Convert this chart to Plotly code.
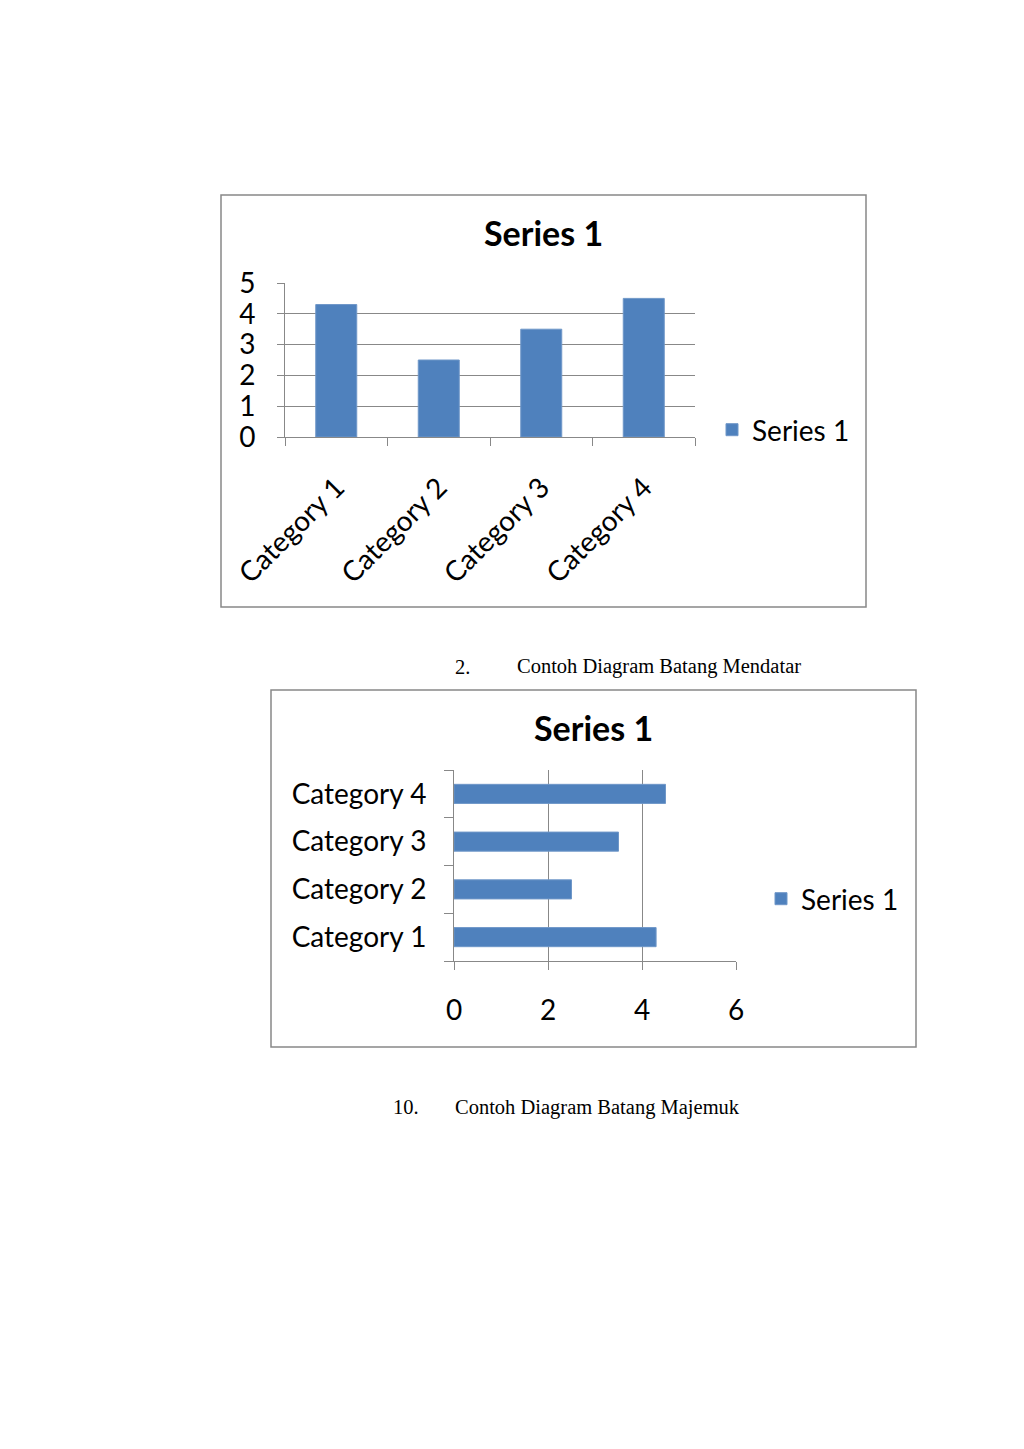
import plotly.graph_objects as go

# data
categories = ["Category 1", "Category 2", "Category 3", "Category 4"]
series_1 = [4.3, 2.5, 3.5, 4.5]
series_name = "Series 1"
y_ticks_1 = [0, 1, 2, 3, 4, 5]
x_ticks_2 = [0, 2, 4, 6]

W, H = 1024, 1449
OFF = 8  # page body margin of the html
blue = "#4F81BD"
grey = "#888888"
font = "Lato"


def px_x(v):
    return (v - OFF) / W


def px_y(v):
    return 1 - (v - OFF) / H


fig = go.Figure()

# chart 1 - vertical bars
fig.add_trace(go.Bar(x=categories, y=series_1, name=series_name,
                     marker=dict(color=blue, line=dict(color="#6F97C8", width=1)),
                     xaxis="x", yaxis="y", legend="legend"))

# chart 2 - horizontal bars
fig.add_trace(go.Bar(y=categories, x=series_1, name=series_name, orientation="h",
                     marker=dict(color=blue, line=dict(color="#6F97C8", width=1)),
                     xaxis="x2", yaxis="y2", legend="legend2"))

fig.update_layout(
    width=W, height=H,
    margin=dict(l=0, r=0, t=0, b=0, autoexpand=False),
    paper_bgcolor="white", plot_bgcolor="white",
    font=dict(family=font, color="black"),
    bargap=0.6,
    showlegend=True,
    xaxis=dict(domain=[px_x(285), px_x(695)], anchor="y", automargin=False,
               type="category", tickangle=-45, tickson="boundaries",
               ticks="outside", ticklen=8, tickcolor=grey,
               showline=True, linecolor=grey, showgrid=False,
               tickfont=dict(size=28), ticklabelstandoff=22),
    yaxis=dict(domain=[px_y(437), px_y(283)], anchor="x", automargin=False,
               range=[0, 5], tickvals=y_ticks_1,
               ticks="outside", ticklen=7, tickcolor=grey,
               showline=True, linecolor=grey,
               showgrid=True, gridcolor=grey, zeroline=False,
               tickfont=dict(size=28), ticklabelstandoff=16),
    xaxis2=dict(domain=[px_x(454), px_x(736)], anchor="y2", automargin=False,
                range=[0, 6], tickvals=x_ticks_2,
                ticks="outside", ticklen=8, tickcolor=grey,
                showline=True, linecolor=grey,
                showgrid=True, gridcolor=grey, zeroline=False,
                tickfont=dict(size=28), ticklabelstandoff=16),
    yaxis2=dict(domain=[px_y(961), px_y(770)], anchor="x2", automargin=False,
                type="category", tickson="boundaries",
                ticks="outside", ticklen=9, tickcolor=grey,
                showline=True, linecolor=grey, showgrid=False,
                tickfont=dict(size=28), ticklabelstandoff=21),
    legend=dict(x=px_x(712), y=px_y(430), xanchor="left", yanchor="middle",
                font=dict(size=28), bgcolor="rgba(0,0,0,0)"),
    legend2=dict(x=px_x(761), y=px_y(899), xanchor="left", yanchor="middle",
                 font=dict(size=28), bgcolor="rgba(0,0,0,0)"),
)

# chart frames
for x0, y0, x1, y1 in [(221, 195, 866, 607), (271, 690, 916, 1047)]:
    fig.add_shape(type="rect", xref="paper", yref="paper",
                  x0=px_x(x0), x1=px_x(x1), y0=px_y(y0), y1=px_y(y1),
                  line=dict(color=grey, width=1.5), layer="below")

# chart titles
for cx, cy in [(543, 232), (593, 727)]:
    fig.add_annotation(text="<b>Series 1</b>", xref="paper", yref="paper",
                       x=px_x(cx), y=px_y(cy), showarrow=False,
                       xanchor="center", yanchor="middle",
                       font=dict(size=34, family=font))

# document captions
captions = [("2.", 453, "Contoh Diagram Batang Mendatar", 515, 667),
            ("10.", 391, "Contoh Diagram Batang Majemuk", 453, 1107)]
for num, nx, txt, tx, ty in captions:
    fig.add_annotation(text=num, xref="paper", yref="paper", x=px_x(nx), y=px_y(ty),
                       showarrow=False, xanchor="left", yanchor="middle",
                       font=dict(size=20.5, family="Liberation Serif"))
    fig.add_annotation(text=txt, xref="paper", yref="paper", x=px_x(tx), y=px_y(ty),
                       showarrow=False, xanchor="left", yanchor="middle",
                       font=dict(size=20.5, family="Liberation Serif"))

fig.write_html("out.html")
